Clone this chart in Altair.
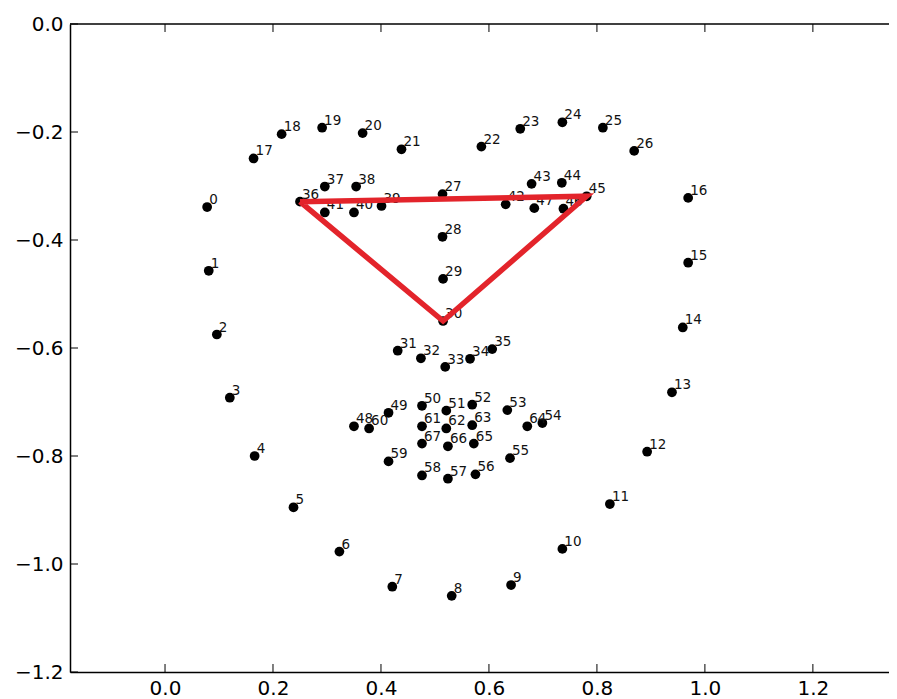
import altair as alt
import pandas as pd

# Landmark ids and coordinates
ids = list(range(68))
xs = [0.078, 0.081, 0.096, 0.120, 0.166, 0.238, 0.323, 0.421, 0.531, 0.641,
      0.736, 0.824, 0.893, 0.939, 0.959, 0.969, 0.969, 0.164, 0.216, 0.291,
      0.366, 0.438, 0.586, 0.658, 0.736, 0.811, 0.869, 0.514, 0.514, 0.515,
      0.515, 0.431, 0.474, 0.519, 0.565, 0.606, 0.250, 0.296, 0.354, 0.401,
      0.350, 0.296, 0.631, 0.679, 0.735, 0.781, 0.738, 0.684, 0.350, 0.414,
      0.476, 0.521, 0.569, 0.634, 0.699, 0.639, 0.575, 0.524, 0.476, 0.414,
      0.378, 0.476, 0.521, 0.569, 0.671, 0.572, 0.524, 0.476]
ys = [-0.339, -0.457, -0.575, -0.692, -0.800, -0.895, -0.977, -1.042, -1.059, -1.039,
      -0.972, -0.889, -0.792, -0.682, -0.562, -0.442, -0.322, -0.249, -0.204, -0.192,
      -0.202, -0.232, -0.227, -0.194, -0.182, -0.192, -0.235, -0.315, -0.394, -0.472,
      -0.550, -0.605, -0.619, -0.635, -0.620, -0.602, -0.329, -0.301, -0.301, -0.337,
      -0.349, -0.349, -0.334, -0.296, -0.294, -0.319, -0.342, -0.341, -0.745, -0.720,
      -0.707, -0.716, -0.705, -0.715, -0.739, -0.804, -0.834, -0.842, -0.836, -0.810,
      -0.749, -0.745, -0.749, -0.743, -0.745, -0.777, -0.782, -0.777]

tri_ids = [36, 45, 30, 36]
x_ticks = [0.0, 0.2, 0.4, 0.6, 0.8, 1.0, 1.2]
y_ticks = [0.0, -0.2, -0.4, -0.6, -0.8, -1.0, -1.2]

df = pd.DataFrame({"x": xs, "y": ys, "label": [str(i) for i in ids]})
tri = pd.DataFrame({"order": list(range(len(tri_ids))),
                    "x": [xs[i] for i in tri_ids],
                    "y": [ys[i] for i in tri_ids]})
xt = pd.DataFrame({"x": x_ticks})
yt = pd.DataFrame({"y": y_ticks})
one = pd.DataFrame({"a": [0]})

W, H = 819, 648
FONT = "DejaVu Sans"
xscale = alt.Scale(domain=[-0.176, 1.341], nice=False, zero=False)
yscale = alt.Scale(domain=[-1.2, 0.0], nice=False, zero=False)

xaxis = alt.Axis(values=x_ticks, format=".1f", labelBaseline="top", labelPadding=6)
yaxis = alt.Axis(values=y_ticks, format=".1f", labelPadding=7)

X = alt.X("x:Q", scale=xscale, axis=xaxis, title=None)
Y = alt.Y("y:Q", scale=yscale, axis=yaxis, title=None)

points = alt.Chart(df).mark_circle(size=95, color="black", opacity=1).encode(x=X, y=Y)

labels = alt.Chart(df).mark_text(align="left", baseline="alphabetic", dx=2, dy=-3,
                                 font=FONT, fontSize=13.5, color="#111111").encode(
    x=X, y=Y, text="label:N",
)

bottom_ticks = alt.Chart(xt).mark_rule(color="black", strokeWidth=1).encode(
    x=X, y=alt.value(H), y2=alt.value(H - 8),
)
top_ticks = alt.Chart(xt).mark_rule(color="black", strokeWidth=1).encode(
    x=X, y=alt.value(0), y2=alt.value(8),
)
left_ticks = alt.Chart(yt).mark_rule(color="black", strokeWidth=1).encode(
    y=Y, x=alt.value(0), x2=alt.value(8),
)
top_border = alt.Chart(one).mark_rule(color="black", strokeWidth=1.5).encode(
    x=alt.value(0), x2=alt.value(W), y=alt.value(0),
)

triangle = alt.Chart(tri).mark_line(color="#e3242b", strokeWidth=5.5).encode(
    x=X, y=Y, order="order:Q",
)

chart = alt.layer(points, labels, bottom_ticks, top_ticks, left_ticks, top_border, triangle).properties(
    width=W, height=H,
    autosize=alt.AutoSizeParams(type="none"),
    padding={"left": 62, "top": 16, "right": 0, "bottom": 30},
    background="white",
).configure_view(stroke=None).configure_axis(
    ticks=False, tickSize=0, grid=False, domain=True, domainColor="black",
    domainWidth=1.5, labelFont=FONT, labelFontSize=20, labelColor="black",
)

chart.save("out.html", embed_options={"renderer": "svg", "actions": False})
